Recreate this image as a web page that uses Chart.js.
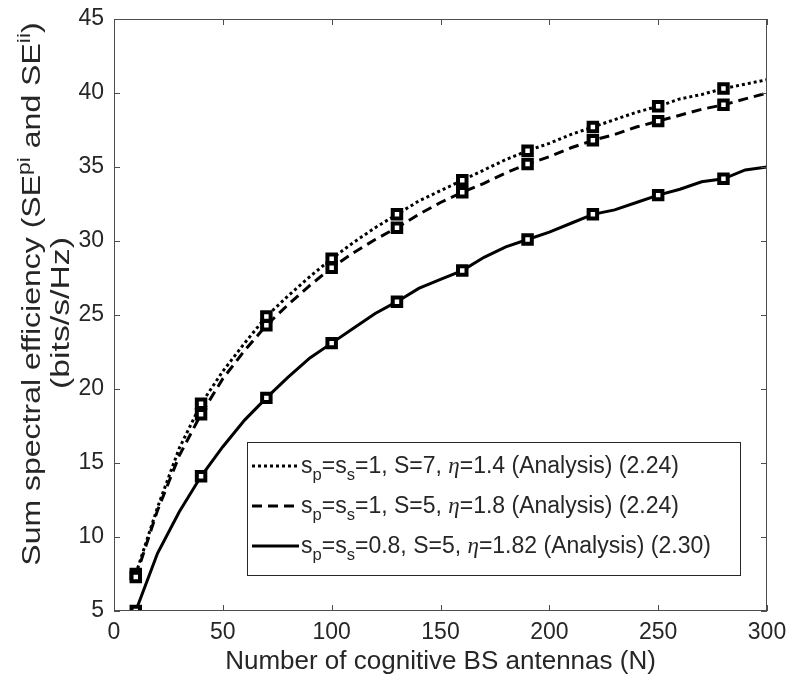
<!DOCTYPE html>
<html>
<head>
<meta charset="utf-8">
<script src="https://cdn.jsdelivr.net/npm/chart.js@4.4.1/dist/chart.umd.min.js"></script>
<style>
  html, body { margin: 0; padding: 0; background: #fff; }
  #wrap { width: 787px; height: 678px; }
</style>
</head>
<body>
<div id="wrap"><canvas id="seChart" width="787" height="678"></canvas></div>
<script>
// number of antennas N (curve samples) and the N where markers sit
const antennas = [10, 20, 30, 40, 50, 60, 70, 80, 90, 100, 110, 120, 130, 140, 150,
  160, 170, 180, 190, 200, 210, 220, 230, 240, 250, 260, 270, 280, 290, 300];
const markerN = [10, 40, 70, 100, 130, 160, 190, 220, 250, 280];

// sum SE in bits/s/Hz
const seS7 = [7.5, 12.0, 16.0, 19.0, 21.2, 23.1, 24.9, 26.3, 27.6, 28.8, 29.9, 30.9, 31.8, 32.7, 33.4,
  34.1, 34.8, 35.5, 36.1, 36.6, 37.2, 37.7, 38.2, 38.7, 39.1, 39.6, 39.9, 40.3, 40.6, 40.9];
const seS5 = [7.3, 11.8, 15.5, 18.3, 20.7, 22.6, 24.3, 25.7, 27.0, 28.2, 29.2, 30.1, 30.9, 31.8, 32.6,
  33.3, 33.9, 34.6, 35.2, 35.7, 36.3, 36.8, 37.2, 37.7, 38.1, 38.5, 38.9, 39.2, 39.6, 40.0];
const seLow = [5.0, 8.9, 11.7, 14.1, 16.1, 17.9, 19.4, 20.8, 22.1, 23.1, 24.1, 25.1, 25.9, 26.8, 27.4,
  28.0, 28.9, 29.6, 30.1, 30.6, 31.2, 31.8, 32.1, 32.6, 33.1, 33.5, 34.0, 34.2, 34.8, 35.0];

const xTicks = [0, 50, 100, 150, 200, 250, 300];
const yTicks = [5, 10, 15, 20, 25, 30, 35, 40, 45];

// legend rows: [text, kind] pieces, kind = n | sub | eta
const legendRows = [
  [['s', 'n'], ['p', 'sub'], ['=s', 'n'], ['s', 'sub'], ['=1, S=7, ', 'n'], ['\u03b7', 'eta'], ['=1.4 (Analysis) (2.24)', 'n']],
  [['s', 'n'], ['p', 'sub'], ['=s', 'n'], ['s', 'sub'], ['=1, S=5, ', 'n'], ['\u03b7', 'eta'], ['=1.8 (Analysis) (2.24)', 'n']],
  [['s', 'n'], ['p', 'sub'], ['=s', 'n'], ['s', 'sub'], ['=0.8, S=5, ', 'n'], ['\u03b7', 'eta'], ['=1.82 (Analysis) (2.30)', 'n']]
];
const legendDash = [[3, 3], [10, 6], []];

const yTitle1 = [['Sum spectral efficiency (SE', 'n'], ['pi', 'sup'], [' and SE', 'n'], ['ii', 'sup'], [')', 'n']];
const yTitle2 = [['(bits/s/Hz)', 'n']];

const SANS = '"Liberation Sans", Arial, Helvetica, sans-serif';
const SERIF = '"Liberation Serif", "Times New Roman", serif';
const INK = '#262626';

function toPoints(vals) {
  return antennas.map((n, i) => ({ x: n, y: vals[i] }));
}
function markerRadius(ctx) {
  return markerN.includes(antennas[ctx.dataIndex]) ? 6 : 0;
}

function pieceFont(kind, size) {
  if (kind === 'sub' || kind === 'sup') return `${(size * 0.72).toFixed(1)}px ${SANS}`;
  if (kind === 'eta') return `italic ${size}px ${SERIF}`;
  return `${size}px ${SANS}`;
}
function richWidth(ctx, parts, size) {
  let w = 0;
  for (const [t, k] of parts) {
    ctx.font = pieceFont(k, size);
    w += ctx.measureText(t).width;
  }
  return w;
}
function drawRich(ctx, parts, x, y, size) {
  for (const [t, k] of parts) {
    ctx.font = pieceFont(k, size);
    let dy = 0;
    if (k === 'sub') dy = size * 0.3;
    if (k === 'sup') dy = -size * 0.4;
    ctx.fillText(t, x, y + dy);
    x += ctx.measureText(t).width;
  }
  return x;
}
// rotated y label line, stretched along its length
function drawYLine(ctx, parts, bx, cy, size, stretch) {
  ctx.save();
  ctx.translate(bx, cy);
  ctx.rotate(-Math.PI / 2);
  ctx.scale(stretch, 1);
  drawRich(ctx, parts, -richWidth(ctx, parts, size) / 2, 0, size);
  ctx.restore();
}

const decorPlugin = {
  id: 'decor',
  afterDraw(chart) {
    const { ctx, chartArea: a, scales: { x, y } } = chart;
    ctx.save();

    // axes box with inward ticks on all four sides
    ctx.strokeStyle = '#4d4d4d';
    ctx.lineWidth = 1;
    ctx.strokeRect(a.left + 0.5, a.top + 0.5, a.right - a.left - 1, a.bottom - a.top - 1);
    ctx.beginPath();
    for (const v of xTicks) {
      const px = Math.round(x.getPixelForValue(v)) + 0.5;
      ctx.moveTo(px, a.bottom); ctx.lineTo(px, a.bottom - 6);
      ctx.moveTo(px, a.top); ctx.lineTo(px, a.top + 6);
    }
    for (const v of yTicks) {
      const py = Math.round(y.getPixelForValue(v)) + 0.5;
      ctx.moveTo(a.left, py); ctx.lineTo(a.left + 6, py);
      ctx.moveTo(a.right, py); ctx.lineTo(a.right - 6, py);
    }
    ctx.stroke();

    // y title, two rotated lines
    ctx.fillStyle = INK;
    ctx.textBaseline = 'alphabetic';
    ctx.textAlign = 'left';
    const cy = (a.top + a.bottom) / 2;
    drawYLine(ctx, yTitle1, 40, cy - 21, 25, 1.28);
    drawYLine(ctx, yTitle2, 69, cy - 2, 25, 1.35);

    // legend box
    const box = { left: a.left + 133, top: a.top + 423, right: a.left + 626, bottom: a.top + 556 };
    ctx.fillStyle = '#fff';
    ctx.fillRect(box.left, box.top, box.right - box.left, box.bottom - box.top);
    ctx.strokeStyle = INK;
    ctx.lineWidth = 1;
    ctx.strokeRect(box.left + 0.5, box.top + 0.5, box.right - box.left, box.bottom - box.top);
    const lSize = 23;
    legendRows.forEach((row, i) => {
      const base = box.top + 31 + i * 40;
      ctx.strokeStyle = '#000';
      ctx.lineWidth = 3;
      ctx.setLineDash(legendDash[i]);
      ctx.beginPath();
      ctx.moveTo(box.left + 5, base - 7);
      ctx.lineTo(box.left + 52, base - 7);
      ctx.stroke();
      ctx.setLineDash([]);
      ctx.fillStyle = INK;
      drawRich(ctx, row, box.left + 54, base, lSize);
    });
    ctx.restore();
  }
};

function series(vals, dash) {
  return {
    data: toPoints(vals),
    borderColor: '#000',
    borderWidth: 3,
    borderDash: dash,
    borderCapStyle: 'butt',
    tension: 0,
    pointStyle: 'rect',
    pointRadius: markerRadius,
    pointBorderWidth: 4,
    pointBorderColor: '#000',
    pointBackgroundColor: '#fff',
    pointHoverRadius: 0
  };
}

const tickFont = { family: SANS, size: 23 };
// keep tick-label overflow from shrinking the plot box
const noOverflow = s => { s.paddingLeft = 0; s.paddingRight = 0; s.paddingTop = 0; s.paddingBottom = 0; };

new Chart(document.getElementById('seChart'), {
  type: 'line',
  data: {
    datasets: [
      series(seLow, []),
      series(seS5, [10, 6]),
      series(seS7, [3, 3])
    ]
  },
  options: {
    responsive: false,
    animation: false,
    events: [],
    layout: { padding: { top: 19, right: 20, left: 0, bottom: 0 } },
    plugins: { legend: { display: false }, tooltip: { enabled: false } },
    scales: {
      x: {
        type: 'linear',
        min: 0,
        max: 300,
        afterBuildTicks: s => { s.ticks = xTicks.map(v => ({ value: v })); },
        ticks: { font: tickFont, color: INK, padding: 8, maxRotation: 0 },
        grid: { display: false, drawTicks: false },
        border: { display: false },
        title: {
          display: true,
          text: 'Number of cognitive BS antennas (N)',
          font: { family: SANS, size: 26 },
          color: INK,
          padding: { top: 0, bottom: 1 }
        },
        afterFit: s => { s.height = 67; noOverflow(s); }
      },
      y: {
        min: 5,
        max: 45,
        afterBuildTicks: s => { s.ticks = yTicks.map(v => ({ value: v })); },
        ticks: { font: tickFont, color: INK, padding: 10 },
        grid: { display: false, drawTicks: false },
        border: { display: false },
        afterFit: s => { s.width = 114; noOverflow(s); }
      }
    }
  },
  plugins: [decorPlugin]
});
</script>
</body>
</html>
